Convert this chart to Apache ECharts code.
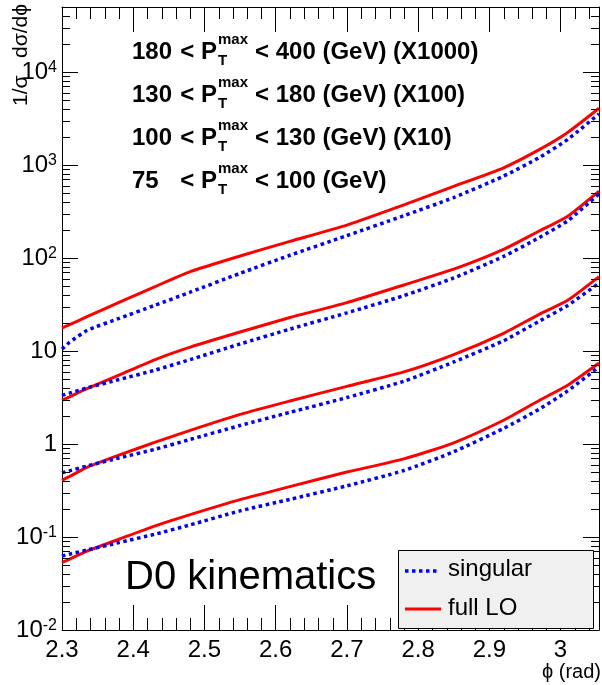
<!DOCTYPE html>
<html>
<head>
<meta charset="utf-8">
<script src="https://cdn.jsdelivr.net/npm/echarts@6/dist/echarts.min.js"></script>
<style>
html, body { margin: 0; padding: 0; background: #fff; }
#chart { width: 602px; height: 685px; }
</style>
</head>
<body>
<div id="chart"></div>
<script>
// phi (rad) sampling points shared by all curves
var phi = [2.30, 2.31, 2.335, 2.38, 2.43, 2.48, 2.55, 2.62, 2.70, 2.78, 2.85, 2.92, 2.97, 3.01, 3.054];

// 75 < pT < 100 GeV
var fullLO_75 = [0.0532, 0.0575, 0.0705, 0.0946, 0.131, 0.174, 0.252, 0.348, 0.499, 0.692, 1.03, 1.80, 2.94, 4.29, 7.43];
var singular_75 = [0.0625, 0.0652, 0.0724, 0.0871, 0.107, 0.135, 0.191, 0.254, 0.355, 0.519, 0.826, 1.47, 2.37, 3.72, 6.76];
// 100 < pT < 130 GeV (x10)
var fullLO_100 = [0.407, 0.445, 0.561, 0.759, 1.04, 1.40, 2.08, 2.90, 4.17, 5.96, 9.16, 15.5, 24.8, 35.1, 63.1];
var singular_100 = [0.491, 0.514, 0.579, 0.708, 0.875, 1.12, 1.58, 2.19, 3.16, 4.73, 7.62, 12.9, 20.9, 30.9, 53.7];
// 130 < pT < 180 GeV (x100)
var fullLO_130 = [2.96, 3.20, 3.93, 5.50, 8.04, 11.0, 16.0, 22.9, 33.1, 51.3, 75.9, 124, 195, 282, 525];
var singular_130 = [3.33, 3.51, 4.01, 4.93, 6.21, 8.09, 11.9, 17.2, 25.7, 39.4, 61.0, 104, 166, 251, 490];
// 180 < pT < 400 GeV (x1000)
var fullLO_180 = [17.7, 19.1, 23.4, 33.3, 49.0, 71.3, 105, 151, 226, 372, 589, 933, 1462, 2239, 4074];
var singular_180 = [10.5, 12.3, 16.6, 22.4, 30.9, 42.9, 68.4, 107, 174, 285, 447, 759, 1202, 1884, 3548];

var rangeLow = ['180', '130', '100', '75'];
var rangeHigh = ['< 400 (GeV) (X1000)', '< 180 (GeV) (X100)', '< 130 (GeV) (X10)', '< 100 (GeV)'];
var xTicks = [2.3, 2.4, 2.5, 2.6, 2.7, 2.8, 2.9, 3.0];

var xMin = 2.3, xMax = 3.054;
var yMin = 0.01, yMax = 50000;
var font = 'Liberation Sans, Arial, Helvetica, sans-serif';

function pairs(arr) {
    return phi.map(function (x, i) { return [x, arr[i]]; });
}

function yLabel(v) {
    var e = Math.round(Math.log10(v));
    if (Math.abs(v / Math.pow(10, e) - 1) > 1e-6) return '';
    if (e === 0) return '1';
    if (e === 1) return '10';
    return '{b|10}{s|' + e + '}';
}

// minor ticks on the frame (log decades 2..9, and 0.02 steps in phi)
var minorY = [];
for (var k = -2; k <= 4; k++) {
    for (var m = 2; m <= 9; m++) {
        var v = m * Math.pow(10, k);
        if (v < yMax) minorY.push(v);
    }
}
var minorX = [];
for (var i = 0; i <= 37; i++) {
    if (i % 5 !== 0) minorX.push(+(2.3 + 0.02 * i).toFixed(2));
}

function renderTicks(params, api) {
    var children = [];
    minorY.forEach(function (v) {
        var l = api.coord([xMin, v]), r = api.coord([xMax, v]);
        var y = Math.round(l[1]) + 0.5;
        children.push({ type: 'line', shape: { x1: l[0], y1: y, x2: l[0] + 8, y2: y }, style: { stroke: '#000', lineWidth: 1 } });
        children.push({ type: 'line', shape: { x1: r[0] - 8, y1: y, x2: r[0], y2: y }, style: { stroke: '#000', lineWidth: 1 } });
    });
    minorX.forEach(function (v) {
        var b = api.coord([v, yMin]), t = api.coord([v, yMax]);
        var x = Math.round(b[0]) + 0.5;
        children.push({ type: 'line', shape: { x1: x, y1: b[1], x2: x, y2: b[1] - 12 }, style: { stroke: '#000', lineWidth: 1 } });
        children.push({ type: 'line', shape: { x1: x, y1: t[1], x2: x, y2: t[1] + 12 }, style: { stroke: '#000', lineWidth: 1 } });
    });
    return { type: 'group', children: children };
}

var xAxisBase = {
    type: 'value', min: xMin, max: xMax, interval: 0.1,
    axisLine: { lineStyle: { color: '#000', width: 1 } },
    axisTick: { inside: true, length: 25, lineStyle: { color: '#000' } },
    splitLine: { show: false }
};
var yAxisBase = {
    type: 'log', logBase: 10, min: yMin, max: yMax,
    axisLine: { show: true, lineStyle: { color: '#000', width: 1 } },
    axisTick: { show: true, inside: true, length: 16, lineStyle: { color: '#000' } },
    splitLine: { show: false }
};

var redLine = { color: '#ff0000', width: 3 };
var blueLine = { color: '#0000ff', width: 3.5, type: [3.5, 3.5], cap: 'butt' };

var series = [];
[[fullLO_75, singular_75], [fullLO_100, singular_100], [fullLO_130, singular_130], [fullLO_180, singular_180]].forEach(function (g) {
    series.push({ type: 'line', name: 'singular', data: pairs(g[1]), showSymbol: false, smooth: 0.2, lineStyle: blueLine, z: 3 });
    series.push({ type: 'line', name: 'full LO', data: pairs(g[0]), showSymbol: false, smooth: 0.2, lineStyle: redLine, z: 2 });
});
series.push({ type: 'custom', data: [[xMin, 1]], renderItem: renderTicks, silent: true, clip: false, z: 10 });

var graphics = [];
// y title
graphics.push({ type: 'text', x: 21, y: 4, rotation: Math.PI / 2,
    style: { text: '1/σ   dσ/dϕ', font: '21px ' + font, fill: '#000', align: 'right', verticalAlign: 'middle' } });
// x title
graphics.push({ type: 'text', x: 601, y: 672,
    style: { text: 'ϕ (rad)', font: '20px ' + font, fill: '#000', align: 'right', verticalAlign: 'middle' } });
// pT ranges
rangeLow.forEach(function (lo, r) {
    var cy = 52 + 43 * r;
    graphics.push({ type: 'text', x: 132, y: cy, style: { text: lo, font: 'bold 24px ' + font, fill: '#000', align: 'left', verticalAlign: 'middle' } });
    graphics.push({ type: 'text', x: 217, y: cy, style: { text: '< P', font: 'bold 24px ' + font, fill: '#000', align: 'right', verticalAlign: 'middle' } });
    graphics.push({ type: 'text', x: 218, y: cy - 12, style: { text: 'max', font: 'bold 15px ' + font, fill: '#000', align: 'left', verticalAlign: 'middle' } });
    graphics.push({ type: 'text', x: 218, y: cy + 9, style: { text: 'T', font: 'bold 15px ' + font, fill: '#000', align: 'left', verticalAlign: 'middle' } });
    graphics.push({ type: 'text', x: 255, y: cy, style: { text: rangeHigh[r], font: 'bold 24px ' + font, fill: '#000', align: 'left', verticalAlign: 'middle' } });
});
// D0 kinematics
graphics.push({ type: 'text', x: 125, y: 578, style: { text: 'D0 kinematics', font: '40px ' + font, fill: '#000', align: 'left', verticalAlign: 'middle' } });
// legend box
graphics.push({ type: 'rect', shape: { x: 398.5, y: 550.5, width: 195, height: 78 }, style: { fill: '#f0f0f0', stroke: '#000', lineWidth: 1 }, z: 20 });
graphics.push({ type: 'line', shape: { x1: 405, y1: 571, x2: 440, y2: 571 }, style: { stroke: '#0000ff', lineWidth: 3.5, lineDash: [3.5, 3.5] }, z: 21 });
graphics.push({ type: 'text', x: 448, y: 569, style: { text: 'singular', font: '24px ' + font, fill: '#000', align: 'left', verticalAlign: 'middle' }, z: 21 });
graphics.push({ type: 'line', shape: { x1: 405, y1: 609, x2: 441, y2: 609 }, style: { stroke: '#ff0000', lineWidth: 3 }, z: 21 });
graphics.push({ type: 'text', x: 448, y: 608, style: { text: 'full LO', font: '24px ' + font, fill: '#000', align: 'left', verticalAlign: 'middle' }, z: 21 });

var option = {
    animation: false,
    backgroundColor: '#fff',
    grid: { left: 62, right: 1, top: 7, bottom: 55, containLabel: false, show: false },
    xAxis: [
        Object.assign({}, xAxisBase, {
            position: 'bottom',
            axisLabel: { fontSize: 24, color: '#000', fontFamily: font, margin: 8,
                formatter: function (v) { return xTicks.some(function (t) { return Math.abs(t - v) < 1e-6; }) ? String(+v.toFixed(1)) : ''; } }
        }),
        Object.assign({}, xAxisBase, { position: 'top', axisLabel: { show: false } })
    ],
    yAxis: [
        Object.assign({}, yAxisBase, {
            position: 'left',
            axisLabel: { color: '#000', fontFamily: font, fontSize: 24, margin: 5, formatter: yLabel,
                rich: { b: { fontSize: 24, fontFamily: font, color: '#000' }, s: { fontSize: 16, fontFamily: font, color: '#000', verticalAlign: 'top' } } }
        }),
        Object.assign({}, yAxisBase, { position: 'right', axisLabel: { show: false } })
    ],
    series: series,
    graphic: graphics
};

var myChart = echarts.init(document.getElementById('chart'));
myChart.setOption(option);
</script>
</body>
</html>
